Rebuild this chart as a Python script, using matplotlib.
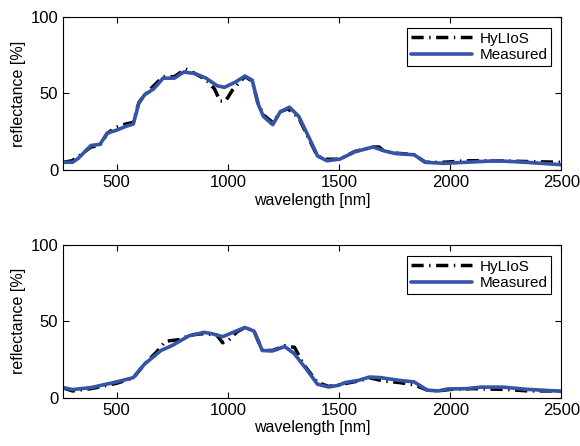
import numpy as np
import matplotlib.pyplot as plt

plt.rcParams['font.family'] = ['Liberation Sans', 'DejaVu Sans']
plt.rcParams['font.size'] = 10.5

# top panel
wl_top = [260, 302, 327, 385, 425, 458, 500, 542, 575, 600, 625, 667, 709, 760, 802,
          852, 902, 952, 985, 1035, 1077, 1110, 1135, 1160, 1202, 1236, 1277, 1319,
          1369, 1403, 1445, 1503, 1570, 1653, 1704, 1754, 1838, 1888, 1972, 2072,
          2206, 2340, 2500]
meas_top = [5, 5, 7.5, 16, 16.7, 24, 26, 28.5, 30, 43.6, 49, 53, 60, 60, 64,
            63, 60, 55, 54, 57.5, 61.4, 58.6, 43.6, 35, 29.6, 38, 41, 35,
            20, 9.2, 6, 7, 11.8, 15, 12.4, 10.7, 9.9, 5, 4.3, 5,
            6, 5, 3.4]
hyl_wl_top = [260, 300, 330, 385, 425, 458, 500, 540, 575, 600, 625, 667, 709, 760, 810,
              852, 902, 940, 965, 990, 1020, 1050, 1077, 1110, 1135, 1160, 1202, 1236,
              1270, 1319, 1369, 1403, 1445, 1503, 1570, 1653, 1680, 1704, 1754, 1838,
              1888, 1972, 2072, 2206, 2340, 2500]
hyl_top = [5, 6, 9, 15, 16, 24, 28, 30, 31, 44, 49, 55, 61, 61, 66,
           63, 59, 53, 45, 45, 52, 57, 61, 58, 44, 36, 31, 38,
           40, 34, 19, 9, 7, 7, 12, 15, 15, 12, 11, 10,
           5, 5, 6, 6, 5.5, 5]

# bottom panel
wl_bot = [260, 302, 385, 500, 575, 625, 700, 751, 826, 893, 926, 977, 1027, 1077,
          1118, 1155, 1202, 1256, 1298, 1352, 1403, 1453, 1498, 1528, 1587, 1637,
          1687, 1771, 1838, 1897, 1947, 1989, 2072, 2139, 2240, 2340, 2500]
meas_bot = [6.7, 5.4, 6.7, 10.4, 13.2, 22, 31, 34.3, 40.6, 42.8, 42, 40, 43, 46,
            43.6, 30.9, 30.7, 33.5, 29, 19, 8.9, 7.1, 8.2, 10, 11.4, 13.6,
            13.2, 11.4, 10.4, 5, 4.5, 5.8, 6, 7, 7, 5.6, 4.3]
hyl_wl_bot = [260, 302, 385, 500, 575, 625, 680, 720, 780, 830, 893, 950, 977, 1000,
              1040, 1077, 1118, 1155, 1202, 1256, 1300, 1340, 1403, 1453, 1498, 1587,
              1640, 1700, 1771, 1838, 1897, 1947, 2000, 2100, 2250, 2350, 2500]
hyl_bot = [6.5, 4.5, 6, 9.5, 13, 22, 30, 37, 38, 41, 42, 41, 36, 37,
           43, 46, 43.6, 31, 31, 34, 33, 22, 10, 7.5, 8.5, 11,
           13, 11, 10, 8.5, 5, 4.5, 5.5, 6, 5.5, 4.5, 4.5]

blue = '#3454a8'

fig = plt.figure(figsize=(5.8, 4.46), dpi=100)
ax1 = fig.add_axes([0.109, 0.619, 0.859, 0.343])
ax2 = fig.add_axes([0.109, 0.108, 0.859, 0.343])

for ax, hx, hy, mx, my in [(ax1, hyl_wl_top, hyl_top, wl_top, meas_top),
                           (ax2, hyl_wl_bot, hyl_bot, wl_bot, meas_bot)]:
    ax.plot(hx, hy, color='black', lw=2.5, dashes=(3.5, 1.6, 0.4, 1.6),
            dash_joinstyle='round', label='HyLIoS')
    ax.plot(mx, my, color=blue, lw=2.6, solid_joinstyle='round',
            solid_capstyle='round', label='Measured')
    ax.set_xlim(260, 2500)
    ax.set_ylim(0, 100)
    ax.set_xticks([500, 1000, 1500, 2000, 2500])
    ax.set_yticks([0, 50, 100])
    ax.tick_params(direction='in', top=True, right=True, length=4, labelsize=12)
    ax.set_xlabel('wavelength [nm]', labelpad=2, fontsize=11.5)
    ax.set_ylabel('reflectance [%]', fontsize=11.5, labelpad=3)
    leg = ax.legend(loc='upper right', fancybox=False, framealpha=1,
                    edgecolor='black', handlelength=4, borderpad=0.25,
                    labelspacing=0.15, borderaxespad=0, fontsize=11,
                    handletextpad=0.5, bbox_to_anchor=(0.98, 0.928))
    leg.get_frame().set_linewidth(0.8)

fig.savefig('out.png', dpi=100)
